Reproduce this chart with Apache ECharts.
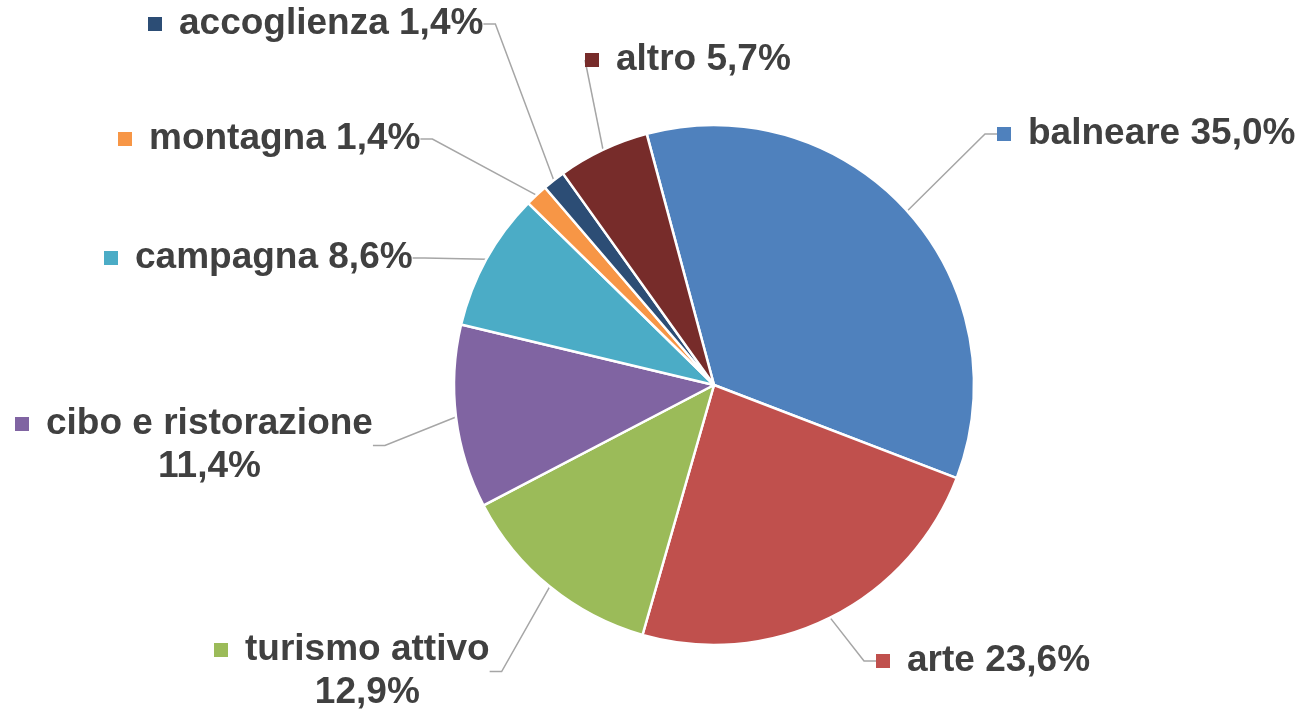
<!DOCTYPE html>
<html style="height: 100%">

<head>
  <meta charset="UTF-8" />
  <title>Tipologie di turismo</title>
  <script src="https://cdn.jsdelivr.net/npm/echarts@6/dist/echarts.min.js"></script>
</head>

<body style="height: 100%; margin: 0; background: #fff">
  <div id="main" style="width: 1305px; height: 712px"></div>
  <script>
    const names = ['balneare', 'arte', 'turismo attivo', 'cibo e ristorazione', 'campagna', 'montagna', 'accoglienza', 'altro'];
    const values = [35.0, 23.6, 12.9, 11.4, 8.6, 1.4, 1.4, 5.7];
    const colors = ['#4F81BD', '#C0504D', '#9BBB59', '#8064A2', '#4BACC6', '#F79646', '#2C4D75', '#772C2A'];
    // labels that wrap the percentage to a second line
    const twoLine = ['turismo attivo', 'cibo e ristorazione'];
    // label anchor: left edge of the key, vertical centre of first line
    const labelPos = [[997, 134], [876, 661], [214, 650], [15, 424], [104, 258], [118, 139], [148, 24], [585, 60]];

    const LH = 43;
    const rich = {
      t: { fontSize: 37, fontWeight: 'bold', color: '#404040', fontFamily: 'Liberation Sans', lineHeight: LH },
      gap: { width: 17, lineHeight: LH },
      sp: { width: 31, align: 'center', lineHeight: LH },
      t2: { fontSize: 37, fontWeight: 'bold', color: '#404040', fontFamily: 'Liberation Sans', lineHeight: LH, align: 'center' }
    };
    colors.forEach(function (c, i) {
      rich['k' + i] = { width: 14, height: 14, backgroundColor: c };
    });

    const fmt = v => v.toFixed(1).replace('.', ',') + '%';

    const chart = echarts.init(document.getElementById('main'));

    chart.setOption({
      backgroundColor: '#fff',
      animation: false,
      series: [{
        type: 'pie',
        center: [714, 385],
        radius: 260,
        startAngle: 105,
        clockwise: true,
        color: colors,
        itemStyle: { borderColor: '#fff', borderWidth: 2.5 },
        data: names.map((n, i) => ({ name: n, value: values[i] })),
        label: {
          show: true,
          position: 'outside',
          formatter: function (p) {
            const k = '{k' + p.dataIndex + '| }{gap| }';
            if (twoLine.includes(p.name)) {
              return k + '{t|' + p.name + '}\n{sp| }{t2|' + fmt(p.value) + '}';
            }
            return k + '{t|' + p.name + ' ' + fmt(p.value) + '}';
          },
          rich: rich
        },
        labelLine: {
          show: true,
          length: 20,
          length2: 12,
          lineStyle: { color: '#A6A6A6', width: 1.5 }
        },
        labelLayout: function (params) {
          const p = labelPos[params.dataIndex];
          return { x: p[0], y: p[1] - LH / 2, align: 'left', verticalAlign: 'top' };
        }
      }]
    });
  </script>
</body>

</html>
